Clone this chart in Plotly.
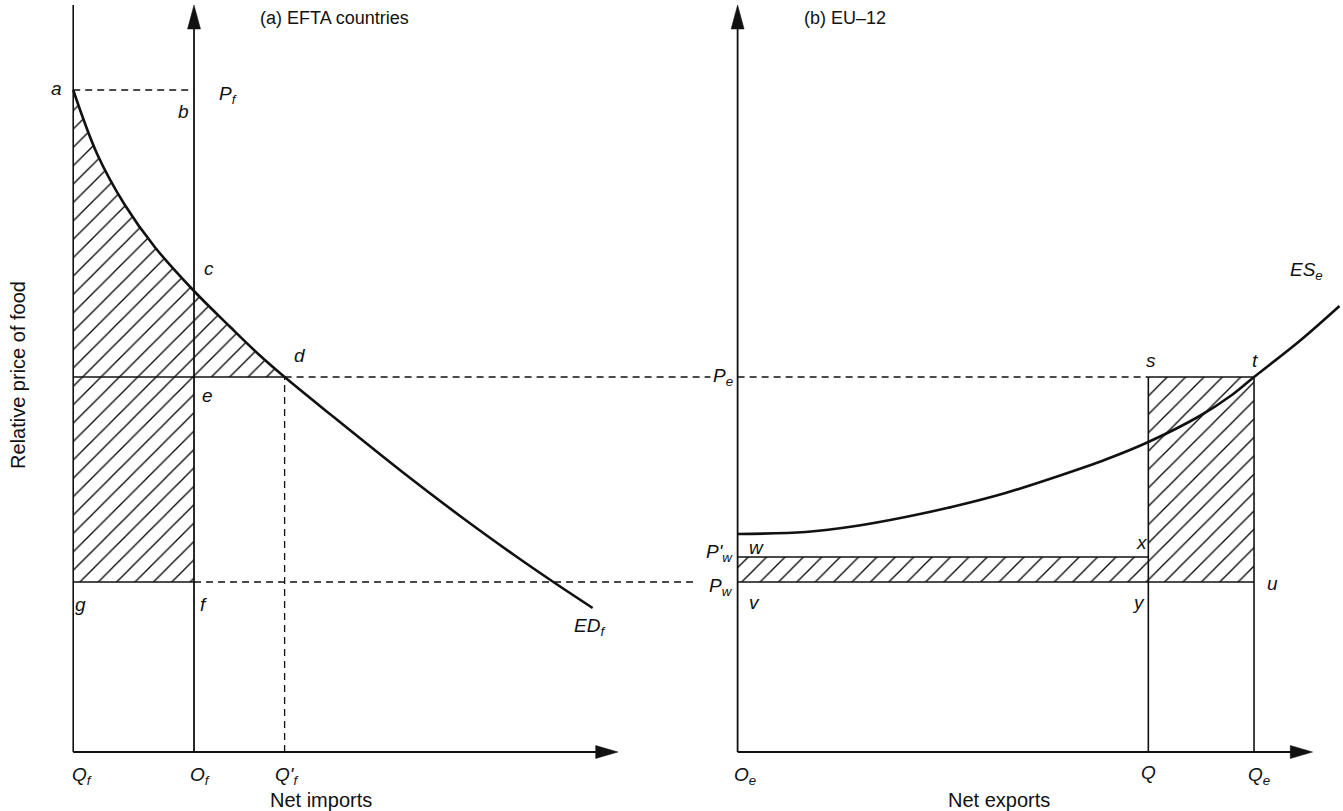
import plotly.graph_objects as go

# ---------------- data (diagram units) ----------------
# Panel (a) EFTA countries: net imports, origin O_f = 0
Q_F = -4.0
O_F = 0.0
Q_F_PRIME = 3.0
AXIS_A_END = 14.04
# Panel (b) EU-12: net exports, origin O_e = 0
O_E = 0.0
Q_B = 13.6
Q_E = 17.1
AXIS_B_END = 19.04
# prices (relative price of food)
P_F = 13.24
P_E = 7.5
P_W_PRIME = 3.9
P_W = 3.4
P_TOP = 14.94

# excess demand curve ED_f (panel a)
ed_x = [-4.0, -3.2, -2.3, -1.3, 0.0, 1.2, 2.2, 3.0, 4.5, 6.9, 8.9, 10.6, 11.9, 13.2]
ed_y = [13.24, 11.95, 10.95, 10.1, 9.22, 8.5, 7.92, 7.5, 6.76, 5.6, 4.68, 3.94, 3.4, 2.88]
# excess supply curve ES_e (panel b)
es_x = [0.0, 2.25, 3.91, 5.56, 7.22, 8.87, 10.53, 12.19, 13.6, 15.3, 16.39, 17.1, 18.61, 19.93]
es_y = [4.36, 4.40, 4.52, 4.70, 4.92, 5.18, 5.50, 5.85, 6.2, 6.72, 7.15, 7.5, 8.22, 8.92]

# ---------------- layout constants ----------------
B_OFF = 18.0            # position of panel (b) origin on the shared horizontal scale
X_RANGE = [-6.424, 38.046]
Y_RANGE = [-1.18, 15.04]
LBL_GAP = 1.1           # where the dashed guide lines stop before panel (b) price labels
ARROW_LEN_Y = 0.48
ARROW_HW_X = 0.215
ARROW_LEN_X = 0.74
ARROW_HW_Y = 0.13
INK = "#111111"
FONT = "Liberation Sans, Arial, Helvetica, sans-serif"
DASH = "7px,5px"
LBL = 19
TXT = 18
AXTXT = 20

fig = go.Figure()


def line(xs, ys, width=1.6, dash=None, shape="linear"):
    fig.add_trace(go.Scatter(x=xs, y=ys, mode="lines", hoverinfo="skip",
                             line=dict(color=INK, width=width, dash=dash, shape=shape),
                             showlegend=False))


def hatch(xs, ys):
    fig.add_trace(go.Scatter(x=xs, y=ys, mode="lines", fill="toself", hoverinfo="skip",
                             line=dict(width=0, color="rgba(0,0,0,0)"),
                             fillcolor="rgba(0,0,0,0)",
                             fillpattern=dict(shape="/", size=13, solidity=0.1,
                                              fgcolor="#000000", fgopacity=1,
                                              bgcolor="white"),
                             showlegend=False))


def tri(xs, ys):
    fig.add_trace(go.Scatter(x=xs, y=ys, mode="lines", fill="toself", hoverinfo="skip",
                             line=dict(width=0.5, color=INK), fillcolor=INK,
                             showlegend=False))


def arrow_up(x, ytip):
    tri([x - ARROW_HW_X, x, x + ARROW_HW_X, x - ARROW_HW_X],
        [ytip - ARROW_LEN_Y, ytip, ytip - ARROW_LEN_Y, ytip - ARROW_LEN_Y])


def arrow_right(xtip, y):
    tri([xtip - ARROW_LEN_X, xtip, xtip - ARROW_LEN_X, xtip - ARROW_LEN_X],
        [y - ARROW_HW_Y, y, y + ARROW_HW_Y, y - ARROW_HW_Y])


# ---------- hatched areas ----------
idx = [i for i, v in enumerate(ed_x) if v <= Q_F_PRIME]
hatch([ed_x[i] for i in idx] + [O_F, O_F, Q_F, Q_F],
      [ed_y[i] for i in idx] + [P_E, P_W, P_W, ed_y[0]])
bx = [O_E, Q_E, Q_E, Q_B, Q_B, O_E, O_E]
by = [P_W, P_W, P_E, P_E, P_W_PRIME, P_W_PRIME, P_W]
hatch([v + B_OFF for v in bx], by)

# ---------- panel (a) ----------
line([Q_F, Q_F], [0, P_TOP], 1.6)                          # left boundary
line([O_F, O_F], [0, P_TOP - ARROW_LEN_Y * 0.5], 1.8)      # price axis
arrow_up(O_F, P_TOP)
line([Q_F, AXIS_A_END - ARROW_LEN_X * 0.5], [0, 0], 1.8)   # quantity axis
arrow_right(AXIS_A_END, 0)
line([Q_F, O_F], [P_F, P_F], 1.3, DASH)                   # a-b
line([Q_F, Q_F_PRIME], [P_E, P_E], 1.6)                   # e-d
line([Q_F_PRIME, B_OFF - LBL_GAP + 0.2], [P_E, P_E], 1.3, DASH)
line([Q_F, O_F], [P_W, P_W], 1.6)                         # g-f
line([O_F, B_OFF - LBL_GAP - 0.25], [P_W, P_W], 1.3, DASH)
line([Q_F_PRIME, Q_F_PRIME], [0, P_E], 1.3, DASH)         # d down to Q'f
line(ed_x, ed_y, 2.6, shape="spline")                    # ED_f

# ---------- panel (b) ----------
ox = B_OFF
line([ox + O_E, ox + O_E], [0, P_TOP - ARROW_LEN_Y * 0.5], 1.8)
arrow_up(ox + O_E, P_TOP)
line([ox + O_E, ox + AXIS_B_END - ARROW_LEN_X * 0.5], [0, 0], 1.8)
arrow_right(ox + AXIS_B_END, 0)
line([ox + O_E, ox + Q_B], [P_E, P_E], 1.3, DASH)
line([ox + Q_B, ox + Q_E], [P_E, P_E], 1.6)
line([ox + Q_B, ox + Q_B], [0, P_E], 1.6)
line([ox + Q_E, ox + Q_E], [0, P_E], 1.6)
line([ox + O_E, ox + Q_B], [P_W_PRIME, P_W_PRIME], 1.6)
line([ox + O_E, ox + Q_E], [P_W, P_W], 1.6)
line([v + ox for v in es_x], es_y, 2.6, shape="spline")  # ES_e

# ---------- labels ----------
def lab(text, x, y, xa="center", ya="middle", size=LBL):
    fig.add_annotation(x=x, y=y, text=text, showarrow=False, xanchor=xa, yanchor=ya,
                       font=dict(family=FONT, size=size, color=INK))


lab("(a) EFTA countries", 2.12, 14.68, xa="left", size=TXT)
lab("(b) EU–12", ox + 2.12, 14.68, xa="left", size=TXT)
lab("<i>a</i>", -4.54, 13.28)
lab("<i>b</i>", -0.36, 12.82)
lab("<i>P<sub>f</sub></i>", 0.75, 13.15, xa="left")
lab("<i>c</i>", 0.5, 9.68)
lab("<i>d</i>", 3.51, 7.94)
lab("<i>e</i>", 0.46, 7.14)
lab("<i>g</i>", -3.77, 2.96)
lab("<i>f</i>", 0.33, 2.96)
lab("<i>ED<sub>f</sub></i>", 12.5, 2.5, xa="left")
lab("<i>Q<sub>f</sub></i>", -3.7, -0.47)
lab("<i>O<sub>f</sub></i>", 0.2, -0.47)
lab("<i>Q'<sub>f</sub></i>", 3.05, -0.47)
lab("Net imports", 4.2, -0.95, size=AXTXT)
lab("Relative price of food", -5.83, 7.54, size=AXTXT)
fig.layout.annotations[-1].textangle = -90

lab("<i>P<sub>e</sub></i>", ox - 0.1, P_E, xa="right")
lab("<i>P'<sub>w</sub></i>", ox - 0.1, 3.98, xa="right")
lab("<i>P<sub>w</sub></i>", ox - 0.1, 3.3, xa="right")
lab("<i>w</i>", ox + 0.63, 4.1)
lab("<i>v</i>", ox + 0.56, 3.0)
lab("<i>x</i>", ox + 13.38, 4.2)
lab("<i>y</i>", ox + 13.28, 3.0)
lab("<i>s</i>", ox + 13.7, 7.84)
lab("<i>t</i>", ox + 17.12, 7.84)
lab("<i>u</i>", ox + 17.72, 3.38)
lab("<i>ES<sub>e</sub></i>", ox + 18.85, 9.62)
lab("<i>O<sub>e</sub></i>", ox + 0.25, -0.47)
lab("<i>Q</i>", ox + 13.6, -0.4)
lab("<i>Q<sub>e</sub></i>", ox + 17.25, -0.47)
lab("Net exports", ox + 8.64, -0.95, size=AXTXT)

fig.update_layout(
    width=1343, height=811, autosize=False,
    margin=dict(l=0, r=0, t=0, b=0),
    paper_bgcolor="white", plot_bgcolor="white",
    xaxis=dict(range=X_RANGE, visible=False, fixedrange=True),
    yaxis=dict(range=Y_RANGE, visible=False, fixedrange=True),
    showlegend=False,
)

fig.write_html("out.html", config={"displayModeBar": False},
               post_script="document.body.style.margin='0';")
